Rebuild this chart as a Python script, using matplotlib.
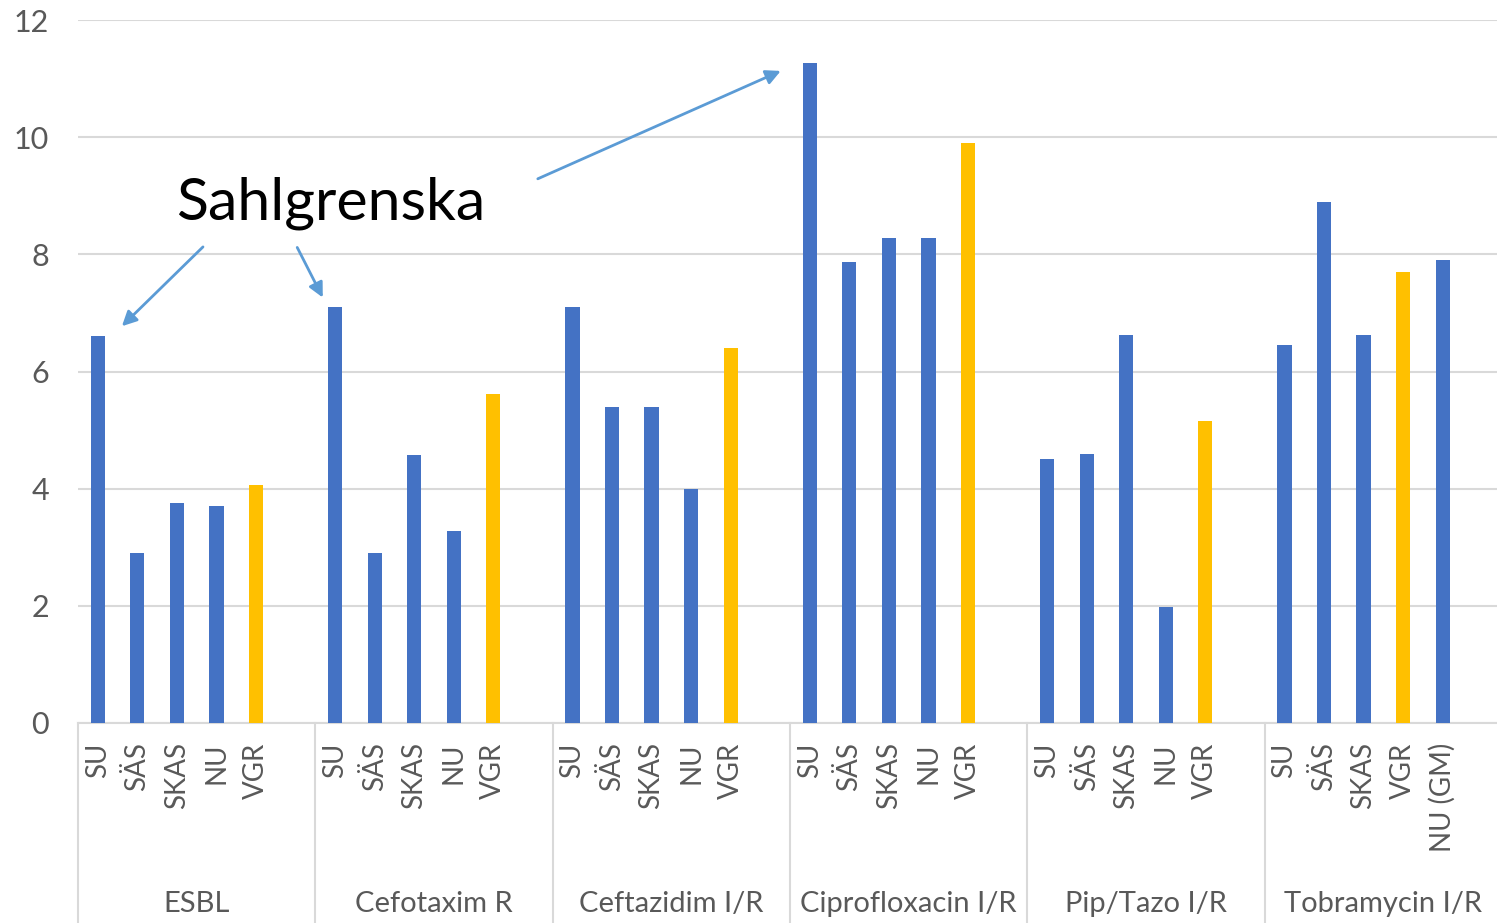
import matplotlib
matplotlib.use("Agg")
from matplotlib import pyplot as plt

plt.rcParams['font.family'] = ['Lato', 'DejaVu Sans']

# data
groups = ["ESBL", "Cefotaxim R", "Ceftazidim I/R", "Ciprofloxacin I/R", "Pip/Tazo I/R", "Tobramycin I/R"]
labels = [
    ["SU", "SÄS", "SKAS", "NU", "VGR"],
    ["SU", "SÄS", "SKAS", "NU", "VGR"],
    ["SU", "SÄS", "SKAS", "NU", "VGR"],
    ["SU", "SÄS", "SKAS", "NU", "VGR"],
    ["SU", "SÄS", "SKAS", "NU", "VGR"],
    ["SU", "SÄS", "SKAS", "VGR", "NU (GM)"],
]
values = [
    [6.6, 2.9, 3.75, 3.7, 4.07],
    [7.1, 2.9, 4.57, 3.27, 5.62],
    [7.1, 5.4, 5.4, 3.99, 6.4],
    [11.27, 7.87, 8.28, 8.28, 9.9],
    [4.5, 4.6, 6.63, 1.98, 5.15],
    [6.45, 8.9, 6.63, 7.7, 7.9],
]

blue = "#4472C4"
gold = "#FFC000"
grey = "#595959"
line = "#D9D9D9"

fig = plt.figure(figsize=(14.97, 9.23), dpi=100)
ax = fig.add_axes([78 / 1497, 200 / 923, 1419 / 1497, 703 / 923])

slots = 6
xs, xl, ys, cs = [], [], [], []
for g in range(len(groups)):
    for s in range(len(values[g])):
        xs.append(g * slots + s + 0.5)
        xl.append(labels[g][s])
        ys.append(values[g][s])
        cs.append(gold if labels[g][s] == "VGR" else blue)

ax.bar(xs, ys, width=0.36, color=cs, zorder=3)

ax.set_ylim(0, 12)
ax.set_xlim(0, 36 * 1419 / 1424)
ax.set_yticks(range(0, 13, 2))
ax.grid(axis='y', color=line, linewidth=1.5, zorder=0)
for sp in ["top", "right", "left"]:
    ax.spines[sp].set_visible(False)
ax.spines["bottom"].set_color(line)
ax.spines["bottom"].set_linewidth(1.5)

ax.tick_params(axis='y', length=0, pad=21, labelsize=22, labelcolor=grey)
ax.set_xticks(xs)
ax.set_xticklabels(xl, rotation=90, fontsize=20, color=grey, va='top', ha='center')
ax.tick_params(axis='x', length=0, pad=14)

# group separators and names
tr = ax.get_xaxis_transform()
for g in range(len(groups) + 1):
    ax.plot([g * slots, g * slots], [0, -0.3], color=line, lw=1.5,
            transform=tr, clip_on=False)
for g, name in enumerate(groups):
    ax.text(g * slots + 3, -0.257, name, transform=tr, ha='center', va='center',
            fontsize=21, color=grey)

# annotation
ax.text(6.4, 8.87, "Sahlgrenska", fontsize=42.5, ha='center', va='center', color='black')
arrow = dict(arrowstyle='-|>', color="#5B9BD5", lw=2, mutation_scale=22)
ax.annotate("", xy=(1.06, 6.74), xytext=(3.21, 8.16), arrowprops=arrow)
ax.annotate("", xy=(6.22, 7.22), xytext=(5.51, 8.16), arrowprops=arrow)
ax.annotate("", xy=(17.83, 11.15), xytext=(11.56, 9.27), arrowprops=arrow)

plt.savefig("out.png", dpi=100)
